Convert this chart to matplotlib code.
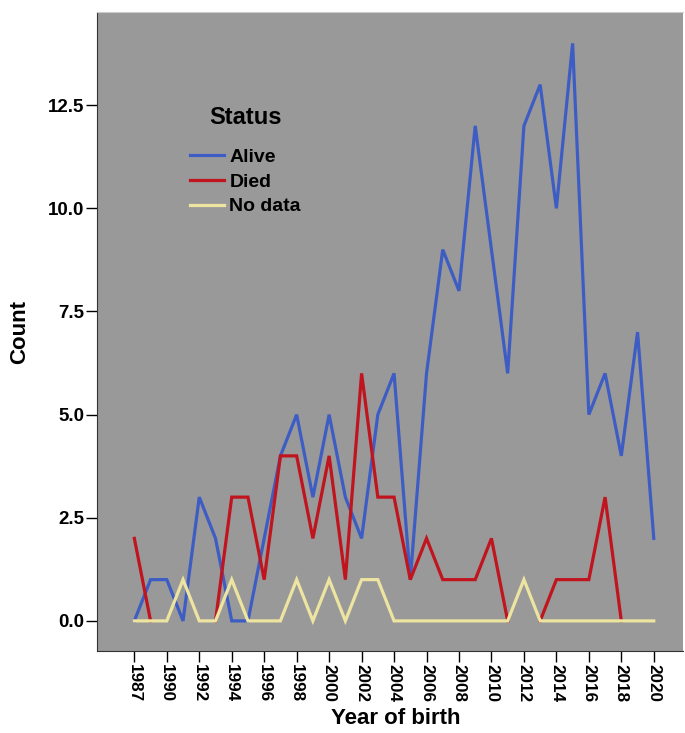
import numpy as np
import matplotlib
matplotlib.use("Agg")
import matplotlib.pyplot as plt

plt.rcParams["font.family"] = ["Liberation Sans", "DejaVu Sans"]
plt.rcParams["font.weight"] = "bold"

# Year-of-birth categories (categorical axis, every other one labelled)
years = [1987, 1989] + list(range(1990, 2021))
nan = np.nan
alive = [0, 1, 1, 0, 3, 2, 0, 0, 2, 4, 5, 3, 5, 3, 2, 5, 6,
         1, 6, 9, 8, 12, 9, 6, 12, 13, 10, 14, 5, 6, 4, 7, 2]
died = [2, 0, nan, nan, nan, 0, 3, 3, 1, 4, 4, 2, 4, 1, 6, 3, 3,
        1, 2, 1, 1, 1, 2, 0, nan, 0, 1, 1, 1, 3, 0, nan, nan]
no_data = [0, 0, 0, 1, 0, 0, 1, 0, 0, 0, 1, 0, 1, 0, 1, 1, 0,
           0, 0, 0, 0, 0, 0, 0, 1, 0, 0, 0, 0, 0, 0, 0, 0]

series = [("Alive", alive, "#3d5dc4"),
          ("Died", died, "#c0141e"),
          ("No data", no_data, "#ece4a0")]

fig = plt.figure(figsize=(6.85, 7.33), dpi=100)
ax = fig.add_axes([97 / 685, 1 - 651 / 733, 586 / 685, 639 / 733])
ax.set_facecolor("#999999")

x = np.arange(len(years))
for name, vals, col in series:
    ax.plot(x, vals, color=col, lw=2.3, label=name, solid_joinstyle="miter")

ax.set_xlim(-2.3, 33.8)
ax.set_ylim(-0.73, 14.76)
ax.set_yticks([0, 2.5, 5, 7.5, 10, 12.5])
ax.set_yticklabels([f"{v:.1f}" for v in [0, 2.5, 5, 7.5, 10, 12.5]])
ax.set_xticks(x[::2])
ax.set_xticklabels([str(y) for y in years[::2]], rotation=-90)

ax.tick_params(axis="y", length=8, width=1, labelsize=13.5, pad=1)
ax.tick_params(axis="x", length=8, width=1, labelsize=12.3, pad=1)

ax.spines["right"].set_visible(False)
ax.spines["top"].set_color("#cccccc")
ax.spines["left"].set_color("#333333")
ax.spines["bottom"].set_color("#333333")

ax.set_ylabel("Count", fontsize=16, fontweight="bold")
ax.yaxis.set_label_coords(-67 / 586, 0.5)
ax.set_xlabel("Year of birth", fontsize=16, fontweight="bold")
ax.xaxis.set_label_coords((396 - 97) / 586, -(708 - 651) / 639)

leg = ax.legend(loc="upper left",
                bbox_to_anchor=(172 / 685, 1 - 131 / 733),
                bbox_transform=fig.transFigure, frameon=False,
                fontsize=14, handlelength=1.75,
                handletextpad=0.3, labelspacing=0.36)
fig.text(246 / 685, 1 - 118 / 733, "Status", fontsize=17, fontweight="bold",
         ha="center", va="center")

fig.savefig("out.png", dpi=100)
